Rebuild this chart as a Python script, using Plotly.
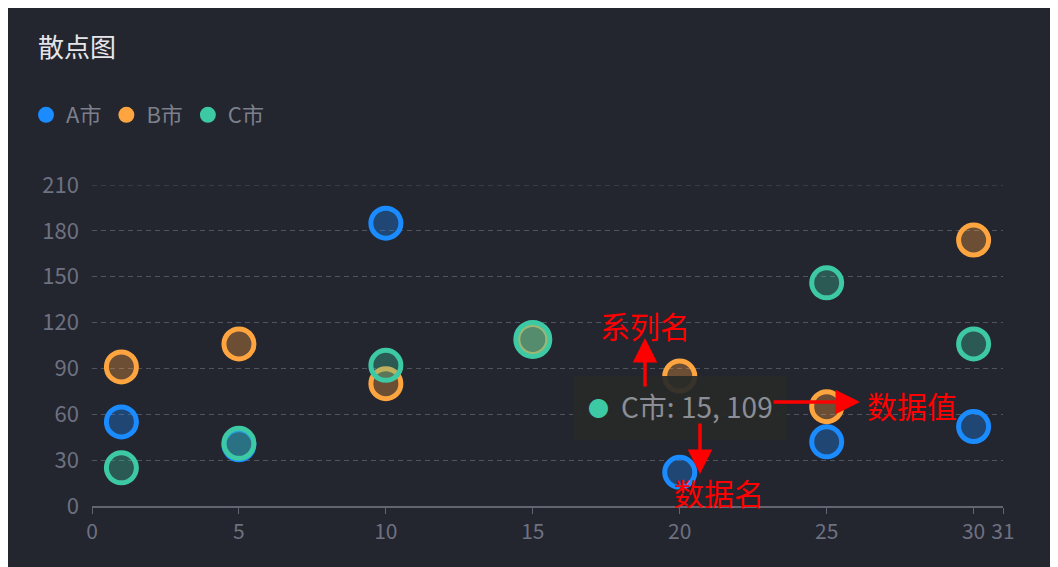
import plotly.graph_objects as go

# data
series_names = ["A市", "B市", "C市"]
a_x = [1, 5, 10, 20, 25, 30]
a_y = [55, 40, 185, 22, 42, 52]
b_x = [1, 5, 10, 15, 20, 25, 30]
b_y = [91, 106, 80, 109, 85, 65, 174]
c_x = [1, 5, 10, 15, 25, 30]
c_y = [25, 41, 92, 109, 146, 106]
x_ticks = [0, 5, 10, 15, 20, 25, 30, 31]
y_ticks = [0, 30, 60, 90, 120, 150, 180, 210]

# the point the tooltip is showing
hover_series = "C市"
hover_x = 15
hover_y = 109

COLORS = {"A市": "#1a8cff", "B市": "#ffa53f", "C市": "#3ec9a5"}
BG = "#23252f"
GRID = "#505361"
FONT = "Noto Sans CJK SC, Noto Sans, sans-serif"

# the page body has an 8px margin, so the figure sits at (8, 8)
OFF = 8
W, H = 1050, 559
ML, MR, MT, MB = 84, 55, 177, 61
PW, PH = W - ML - MR, H - MT - MB


def px(x, y):
    # page pixel position -> paper coordinates
    return (x - OFF - ML) / PW, (H - MB - (y - OFF)) / PH


def rgba(hex_color, a):
    h = hex_color.lstrip("#")
    r, g, b = int(h[0:2], 16), int(h[2:4], 16), int(h[4:6], 16)
    return f"rgba({r},{g},{b},{a})"


def main() -> None:
    fig = go.Figure()

    for name, xs, ys in [("A市", a_x, a_y), ("B市", b_x, b_y), ("C市", c_x, c_y)]:
        col = COLORS[name]
        hot = [name == hover_series and x == hover_x for x in xs]
        fig.add_trace(
            go.Scatter(
                x=xs,
                y=ys,
                mode="markers",
                name=name,
                showlegend=False,
                marker=dict(
                    size=[34 if h else 30 for h in hot],
                    color=[rgba(col, 0.5) if h else rgba(col, 0.33) for h in hot],
                    opacity=1,
                    line=dict(color=col, width=5),
                ),
            )
        )

    # legend entries with solid dots
    for name in series_names:
        fig.add_trace(
            go.Scatter(
                x=[None],
                y=[None],
                mode="markers",
                name=name,
                marker=dict(size=19, color=COLORS[name]),
            )
        )

    # top gridline (plotly drops the one on the plot edge)
    shapes = [
        dict(type="line", xref="paper", yref="y", x0=0, x1=1, y0=y_ticks[-1], y1=y_ticks[-1],
             line=dict(color=GRID, width=1, dash="5px,4px"), layer="below")
    ]

    # tooltip box
    tx0, ty0 = px(573, 440)
    tx1, ty1 = px(787, 376)
    shapes.append(
        dict(type="rect", xref="paper", yref="paper", x0=tx0, x1=tx1, y0=ty0, y1=ty1,
             fillcolor="rgba(40,42,41,0.93)", line=dict(width=0), layer="above")
    )

    annotations = []
    dx, dy = px(598, 407)
    annotations.append(dict(xref="paper", yref="paper", x=dx, y=dy, xanchor="center", yanchor="middle",
                            text="●", showarrow=False,
                            font=dict(size=21, color=COLORS[hover_series], family=FONT)))
    lx, ly = px(619, 406)
    annotations.append(dict(xref="paper", yref="paper", x=lx, y=ly, xanchor="left", yanchor="middle",
                            text=f"{hover_series}: {hover_x}, {hover_y}", showarrow=False,
                            font=dict(size=28, color="#8c8e96", family=FONT)))

    # red callouts
    red = "#ff0000"
    arrows = [((645, 338), (645, 388)), ((700, 474), (700, 422)), ((860, 402), (772, 402))]
    for (hx, hy), (sx, sy) in arrows:
        x, y = px(hx, hy)
        annotations.append(dict(xref="paper", yref="paper", x=x, y=y, text="",
                                showarrow=True, ax=sx - hx, ay=sy - hy,
                                arrowhead=2, arrowsize=1.4, arrowwidth=3.5, arrowcolor=red))
    for label, cx, cy in [("系列名", 645, 325), ("数据名", 719, 492), ("数据值", 912, 405)]:
        x, y = px(cx, cy)
        annotations.append(dict(xref="paper", yref="paper", x=x, y=y, xanchor="center", yanchor="middle",
                                text=label, showarrow=False,
                                font=dict(size=30, color=red, family=FONT)))

    fig.update_layout(
        width=W,
        height=H,
        margin=dict(l=ML, r=MR, t=MT, b=MB),
        paper_bgcolor=BG,
        plot_bgcolor=BG,
        font=dict(family=FONT),
        title=dict(
            text="散点图",
            x=30 / W,
            xanchor="left",
            xref="container",
            y=1 - 40 / H,
            yanchor="middle",
            yref="container",
            font=dict(size=26, color="#e6e6ea", family=FONT),
        ),
        legend=dict(
            orientation="h",
            xref="container",
            yref="container",
            x=18 / W,
            xanchor="left",
            y=1 - 107 / H,
            yanchor="middle",
            font=dict(size=22, color="#7d808c", family=FONT),
            itemwidth=30,
            bgcolor="rgba(0,0,0,0)",
        ),
        xaxis=dict(
            range=[0, 31],
            tickvals=x_ticks,
            showgrid=False,
            zeroline=False,
            showline=True,
            linecolor="#62656f",
            linewidth=1.5,
            ticks="outside",
            ticklen=6,
            tickcolor="#62656f",
            tickfont=dict(size=21, color="#6e7180", family=FONT),
        ),
        yaxis=dict(
            range=[0, 210],
            tickvals=y_ticks,
            showgrid=True,
            gridcolor=GRID,
            griddash="5px,4px",
            zeroline=False,
            showline=False,
            ticklabelstandoff=12,
            tickfont=dict(size=22, color="#6e7180", family=FONT),
        ),
        shapes=shapes,
        annotations=annotations,
        hovermode="closest",
    )

    fig.write_html("out.html")


if __name__ == "__main__":
    main()
